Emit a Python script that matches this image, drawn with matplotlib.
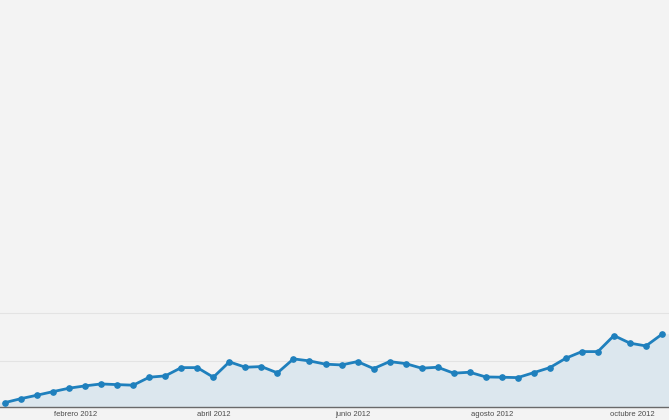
import datetime as dt
import matplotlib
matplotlib.use("Agg")
import matplotlib.pyplot as plt
import matplotlib.dates as mdates

# weekly values, 1 Jan 2012 onwards
start = dt.date(2012, 1, 1)
values = [66, 107, 143, 180, 216, 240, 260, 253, 247, 330,
          344, 430, 430, 330, 490, 434, 441, 375, 521, 500,
          466, 458, 493, 420, 493, 472, 424, 434, 372, 382,
          333, 330, 326, 378, 430, 528, 597, 597, 764, 685,
          656, 778]
weeks = [start + dt.timedelta(days=7 * i) for i in range(len(values))]

month_ticks = [dt.date(2012, 2, 1), dt.date(2012, 4, 1), dt.date(2012, 6, 1),
               dt.date(2012, 8, 1), dt.date(2012, 10, 1)]
month_labels = ["febrero 2012", "abril 2012", "junio 2012", "agosto 2012", "octubre 2012"]
grid_levels = [500, 1000]

bg = "#f3f3f3"
line_col = "#1f80bd"
fill_col = "#dce7ee"

fig = plt.figure(figsize=(6.69, 4.20), dpi=100, facecolor=bg)
ax = fig.add_axes([0, 0.031, 1, 0.969])
ax.set_facecolor(bg)

for g in grid_levels:
    ax.axhline(g, color="#e3e3e3", lw=0.8, zorder=1)

x0 = mdates.date2num(start) - 2.2
x1 = mdates.date2num(weeks[-1]) + 3.06
xs = [x0] + list(mdates.date2num(weeks)) + [x1]
ys = [values[0]] + values + [values[-1]]
ax.fill_between(xs, ys, 0, color=fill_col, zorder=2, lw=0)
ax.plot(weeks, values, color=line_col, lw=2.0, marker="o", ms=3.8,
        markerfacecolor=line_col, markeredgecolor=line_col, zorder=3)

ax.set_xlim(x0, x1)
ax.set_ylim(20, 4260)

ax.set_xticks(month_ticks)
ax.set_xticklabels(month_labels, fontsize=5.5, color="#4a4a4a", family="Liberation Sans")
ax.tick_params(axis="x", length=0, pad=3)
ax.set_yticks([])

for side in ["top", "left", "right"]:
    ax.spines[side].set_visible(False)
ax.spines["bottom"].set_color("#6a6a6a")
ax.spines["bottom"].set_linewidth(1.0)

fig.savefig("out.png", dpi=100, facecolor=bg)
